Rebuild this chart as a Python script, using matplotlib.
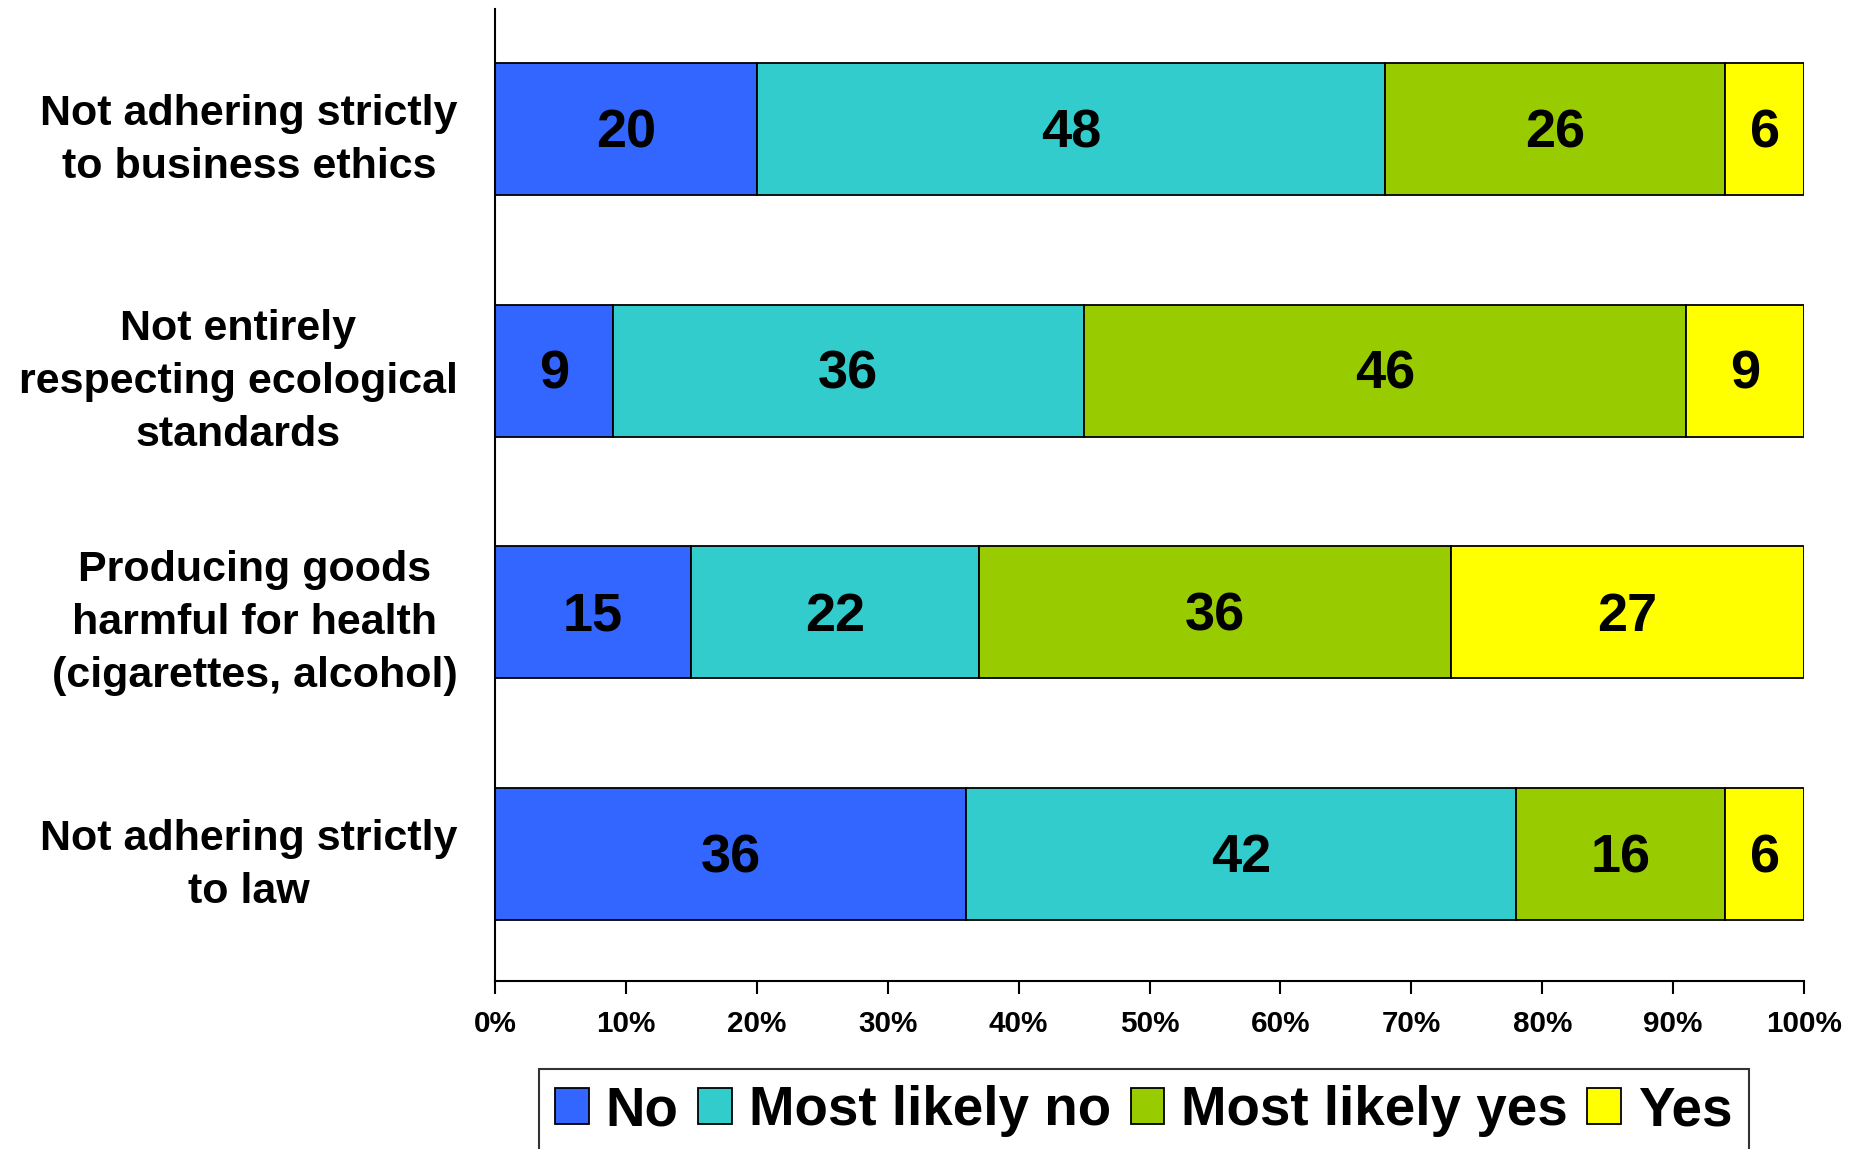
import matplotlib
matplotlib.use("Agg")
import matplotlib.pyplot as plt
import numpy as np

categories = [
    "Not adhering strictly\nto business ethics",
    "Not entirely\nrespecting ecological\nstandards",
    "Producing goods\nharmful for health\n(cigarettes, alcohol)",
    "Not adhering strictly\nto law",
]
series_names = ["No", "Most likely no", "Most likely yes", "Yes"]
no_vals = [20, 9, 15, 36]
likely_no_vals = [48, 36, 22, 42]
likely_yes_vals = [26, 46, 36, 16]
yes_vals = [6, 9, 27, 6]
colors = ["#3366FF", "#33CCCC", "#99CC00", "#FFFF00"]
xtick_labels = [f"{v}%" for v in range(0, 101, 10)]

FONT = "Liberation Sans"

fig = plt.figure(figsize=(18.57, 11.49), dpi=100)
ax = fig.add_axes([495 / 1857, 1 - 981 / 1149, (1804 - 495) / 1857, (981 - 9) / 1149])

ypos = np.arange(len(categories))[::-1]
series = [no_vals, likely_no_vals, likely_yes_vals, yes_vals]
left = np.zeros(len(categories))
handles = []
for name, vals, col in zip(series_names, series, colors):
    vals = np.array(vals, dtype=float)
    bars = ax.barh(ypos, vals, left=left, height=0.546, color=col,
                   edgecolor="black", linewidth=1.3, label=name)
    handles.append(bars)
    for b, v in zip(bars, vals):
        ax.annotate(f"{int(v)}",
                    (b.get_x() + b.get_width() / 2, b.get_y() + b.get_height() / 2),
                    xytext=(0, -3), textcoords="offset points",
                    ha="center", va="center", fontsize=39,
                    fontweight="bold", family=FONT, color="black")
    left += vals

ax.set_xlim(0, 100)
ax.set_ylim(-0.525, 3.497)
ax.set_xticks(range(0, 101, 10))
ax.set_xticklabels(xtick_labels, fontsize=21.3, fontweight="bold", family=FONT)
ax.set_yticks(ypos)
ax.set_yticklabels(categories, fontsize=31, fontweight="bold",
                   family=FONT, multialignment="center", linespacing=1.42)
ax.tick_params(axis="x", length=9, width=1.5, pad=12, direction="out")
ax.tick_params(axis="y", length=0, pad=27)
for s in ["top", "right"]:
    ax.spines[s].set_visible(False)
for s in ["left", "bottom"]:
    ax.spines[s].set_linewidth(1.5)

leg = fig.legend(handles, series_names, loc="upper left",
                 bbox_to_anchor=(539 / 1857, 1 - 1069 / 1149), ncol=4,
                 prop={"family": FONT, "weight": "bold", "size": 39.4},
                 frameon=True, fancybox=False, edgecolor="black",
                 handlelength=0.62, handleheight=0.62, handletextpad=0.3,
                 columnspacing=0.36, borderpad=0.3, borderaxespad=0)
leg.get_frame().set_linewidth(1.5)

fig.savefig("out.png", dpi=100)
